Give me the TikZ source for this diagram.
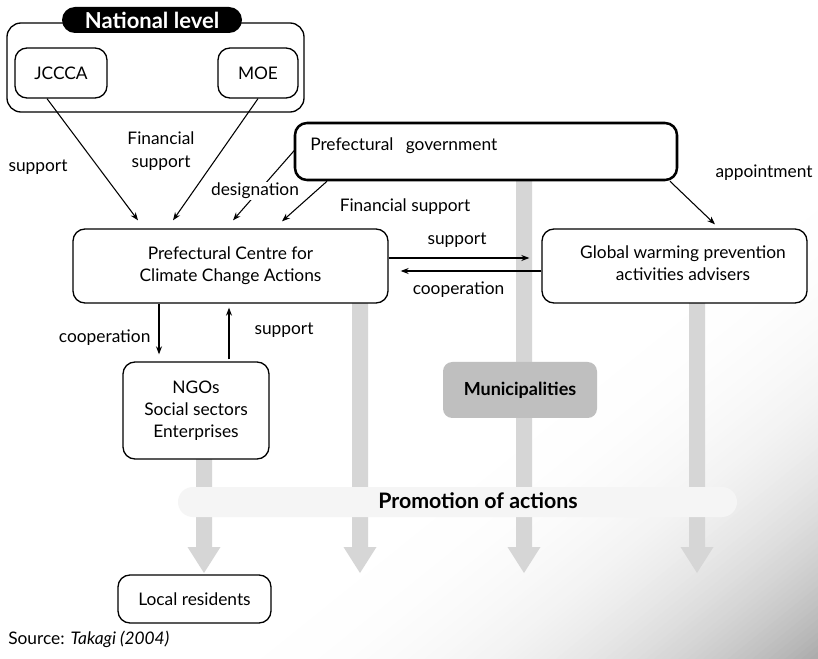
\documentclass[tikz,border=0pt]{standalone}
\usepackage{fontspec}
\setmainfont{Lato}
\usetikzlibrary{arrows.meta}
\newcommand\gdown[2]{\fill[gfill] (#1-8,#2) -- (#1-8,547) -- (#1-16.5,547) -- (#1,573) -- (#1+16.5,547) -- (#1+8,547) -- (#1+8,#2) -- cycle;}
\begin{document}
\begin{tikzpicture}[x=0.75pt,y=-0.75pt,
  box/.style={draw, line width=1pt, rounded corners=9pt, fill=white, align=center, inner sep=0pt, font=\fontsize{13}{16.5}\selectfont},
  lbl/.style={font=\fontsize{13}{17}\selectfont, inner sep=1pt, align=center},
  arr/.style={line width=0.8pt, -{Stealth[length=6pt,width=4.5pt]}},
  gfill/.style={fill=black!16}]
\useasboundingbox (0,0) rectangle (818,659);
\fill[white] (0,0) rectangle (818,659);
% background gradient towards the lower right corner
\foreach \i in {0,...,79}{
  \pgfmathsetmacro\ca{1.2+\i*0.01}
  \pgfmathsetmacro\cb{\ca+0.012}
  \pgfmathsetmacro\bb{33*pow((\ca+0.005)/2-0.6,2.8)/pow(0.4,2.8)}
  \fill[black!\bb] (818,{659*(\ca-1)}) -- (818,{659*(\cb-1)}) -- ({818*(\cb-1)},659) -- ({818*(\ca-1)},659) -- cycle;
}
% grey arrows
\gdown{204}{459}
\gdown{360}{303}
\gdown{524}{180}
\gdown{697}{303}
% band
\node[fill=black!4, rounded corners=11.25pt, minimum width=419.25pt, minimum height=22.5pt, inner sep=0pt] (band) at (457.5,502) {};
\node[font=\fontsize{16}{18}\selectfont\bfseries, inner sep=0pt] (promo) at (478,501) {Promotion of actions};
% national level
\node[box, rounded corners=10.5pt, minimum width=222.75pt, minimum height=66.75pt] (nat) at (155.5,67.5) {};
\node[fill=black, rounded corners=9.75pt, minimum width=135pt, minimum height=19.5pt, inner sep=0pt, text=white, font=\fontsize{16.5}{18}\selectfont\bfseries] (natlabel) at (152,20) {National level};
\node[box, minimum width=69pt, minimum height=37.5pt] (jccca) at (61,73) {JCCCA};
\node[box, minimum width=60pt, minimum height=37.5pt] (moe) at (258,73) {MOE};
% prefectural government
\node[box, line width=1.9pt, minimum width=286.5pt, minimum height=42.75pt] (gov) at (486,151.5) {};
\node[lbl, anchor=west, inner sep=0pt] (govtxt) at (310,146) {Prefectural\hspace{0.45em} government};
% centre
\node[box, minimum width=236.25pt, minimum height=55.5pt] (centre) at (230.5,266) {Prefectural Centre for\\Climate Change Actions};
\node[box, minimum width=198.75pt, minimum height=55.5pt] (global) at (674.5,266) {};
\node[lbl, inner sep=0pt, font=\fontsize{13}{16.5}\selectfont] (globaltxt) at (683,263) {Global warming prevention\\activities advisers};
\node[box, minimum width=109.5pt, minimum height=72.75pt] (ngos) at (196,410.5) {NGOs\\Social sectors\\Enterprises};
\node[fill=black!25, rounded corners=7pt, minimum width=115.5pt, minimum height=42pt, inner sep=0pt, font=\fontsize{13.5}{16}\selectfont\bfseries] (muni) at (520,390) {Municipalities};
\node[box, minimum width=114.75pt, minimum height=36pt] (local) at (194.5,599) {Local residents};
% black arrows
\draw[arr] ([shift={(-14,0)}]jccca.south) -- ([shift={(-92.5,-8)}]centre.north);
\draw[arr] (moe.south) -- ([shift={(-57.5,-8)}]centre.north);
\draw[arr] ([shift={(1,-1.5)}]gov.west) -- ([shift={(2.5,-8)}]centre.north);
\draw[arr] ([shift={(-159,0)}]gov.south) -- ([shift={(51.5,-7)}]centre.north);
\draw[arr] ([shift={(184,0)}]gov.south) -- ([shift={(40.5,-4)}]global.north);
\draw[arr] ([shift={(0,-8)}]centre.east) -- ([shift={(-12,-8)}]global.west);
\draw[arr] ([shift={(0,5)}]global.west) -- ([shift={(12,5)}]centre.east);
\draw[arr] ([shift={(-71.5,0)}]centre.south) -- ([shift={(-37,-7)}]ngos.north);
\draw[arr] ([shift={(33,-2)}]ngos.north) -- ([shift={(-1.5,4)}]centre.south);
% labels
\node[lbl] (l1) at (38,167) {support};
\node[lbl] (l2) at (161,151) {Financial\\support};
\node[lbl, fill=white] (l3) at (255,191) {designation};
\node[lbl] (l4) at (405,207) {Financial support};
\node[lbl] (l5) at (764,173) {appointment};
\node[lbl] (l6) at (457,240) {support};
\node[lbl] (l7) at (458.5,290) {cooperation};
\node[lbl, anchor=east] (l8) at (152,338) {cooperation};
\node[lbl] (l9) at (284,330) {support};
\node[lbl, anchor=west, inner sep=0pt] (src) at (8,639) {Source: \textit{Takagi (2004)}};
\end{tikzpicture}
\end{document}
